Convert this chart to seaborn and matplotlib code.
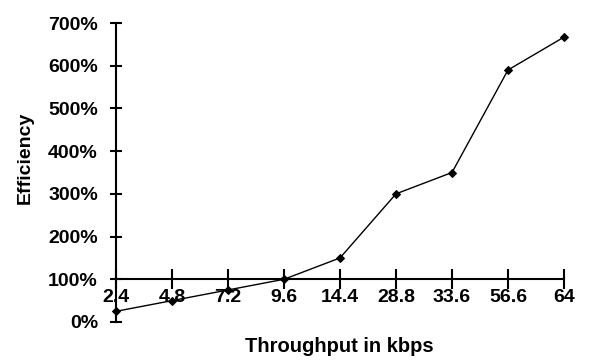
import matplotlib
matplotlib.use("Agg")
import matplotlib.pyplot as plt
import seaborn as sns
import pandas as pd
from matplotlib.ticker import FuncFormatter

# throughput categories and efficiency (%)
throughput = ["2.4", "4.8", "7.2", "9.6", "14.4", "28.8", "33.6", "56.6", "64"]
efficiency = [25, 50, 75, 100, 150, 300, 350, 590, 667]

df = pd.DataFrame({"pos": range(len(throughput)), "eff": efficiency})

sns.set_theme(style="white")
plt.rcParams['font.family'] = ['Liberation Sans', 'DejaVu Sans']
plt.rcParams['font.weight'] = 'bold'
plt.rcParams['text.color'] = 'black'
plt.rcParams['axes.labelcolor'] = 'black'

fig = plt.figure(figsize=(5.9, 3.61), dpi=100)
ax = fig.add_axes([116 / 590, 1 - 322 / 361, (564 - 116) / 590, (322 - 23) / 361])

sns.lineplot(data=df, x="pos", y="eff", ax=ax, color="black", linewidth=1,
             marker="D", markersize=4, markeredgecolor="black", clip_on=False)

ax.set_xlim(0, len(throughput) - 1)
ax.set_ylim(0, 700)
ax.set_yticks(range(0, 701, 100))
ax.yaxis.set_major_formatter(FuncFormatter(lambda v, p: f"{int(v)}%"))
ax.set_xticks(range(len(throughput)))
ax.set_xticklabels(throughput)

for s in ["top", "right"]:
    ax.spines[s].set_visible(False)
ax.spines["bottom"].set_position(("data", 100))
for s in ["left", "bottom"]:
    ax.spines[s].set_linewidth(1.5)
    ax.spines[s].set_color("black")

fs = 14
ax.tick_params(axis="x", bottom=True, direction="inout", length=14, width=1.5,
               pad=0, labelsize=fs, colors="black")
ax.tick_params(axis="y", left=True, direction="inout", length=8, width=1.5,
               pad=9, labelsize=fs, colors="black")
for lab in ax.get_xticklabels() + ax.get_yticklabels():
    lab.set_fontweight("bold")

ax.set_xlabel("")
ax.set_ylabel("")
fig.text(25 / 590, 1 - 158 / 361, "Efficiency", ha="center", va="center",
         rotation=90, fontsize=fs, fontweight="bold")
fig.text(339 / 590, 1 - 346 / 361, "Throughput in kbps", ha="center", va="center",
         fontsize=14.5, fontweight="bold")

fig.savefig("out.png", dpi=100)
